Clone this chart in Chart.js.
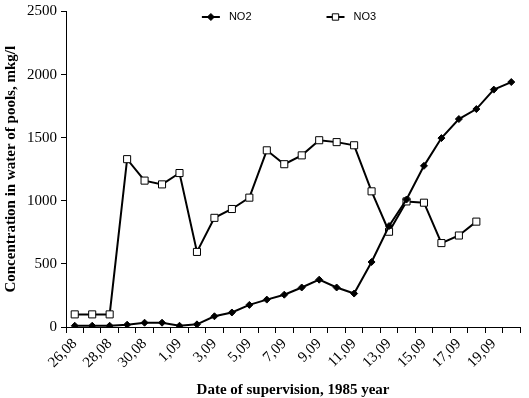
<!DOCTYPE html>
<html>
<head>
<meta charset="utf-8">
<script src="https://cdn.jsdelivr.net/npm/chart.js@4/dist/chart.umd.min.js"></script>
<style>
html,body{margin:0;padding:0;background:#fff;}
#wrap{width:529px;height:398px;}
</style>
</head>
<body>
<div id="wrap"><canvas id="c" width="529" height="398"></canvas></div>
<script>
const categories = ['26,08','27,08','28,08','29,08','30,08','31,08','1,09','2,09','3,09','4,09','5,09','6,09','7,09','8,09','9,09','10,09','11,09','12,09','13,09','14,09','15,09','16,09','17,09','18,09','19,09','20,09'];
const no2 = [10,10,10,18,34,34,10,21,85,115,175,217,256,313,375,313,265,515,800,1010,1277,1497,1648,1727,1881,1941];
const no3 = [100,100,100,1330,1160,1130,1220,595,865,935,1025,1400,1290,1360,1480,1465,1440,1075,755,995,985,665,725,835,null,null];
const yTicks = [0,500,1000,1500,2000,2500];
const xTitle = 'Date of supervision, 1985 year';
const yTitle = 'Concentration in water of pools, mkg/l';

const serif = '"Liberation Serif", "Times New Roman", serif';
const sans = '"Liberation Sans", Arial, sans-serif';

const legendPlugin = {
  id: 'excelLegend',
  afterDraw(chart) {
    const ctx = chart.ctx;
    const ds = chart.data.datasets;
    ctx.save();
    ctx.font = '11px ' + sans;
    const lineLen = 18, gapText = 9, gapItem = 75;
    const widths = ds.map(d => ctx.measureText(d.label).width);
    let total = 0;
    widths.forEach((w,i)=>{ total += lineLen + gapText + w + (i < ds.length-1 ? gapItem : 0); });
    const ca = chart.chartArea;
    let x = (ca.left + ca.right)/2 - total/2 - 4;
    const y = 17;
    ds.forEach((d,i)=>{
      ctx.strokeStyle = '#000';
      ctx.lineWidth = 2;
      ctx.beginPath(); ctx.moveTo(x, y); ctx.lineTo(x+lineLen, y); ctx.stroke();
      ctx.fillStyle = d.pointBackgroundColor;
      ctx.strokeStyle = d.pointBorderColor;
      ctx.lineWidth = 1;
      Chart.helpers.drawPoint(ctx, {pointStyle: d.pointStyle, radius: d.pointRadius - (d.pointStyle==='rect'?0.5:0), rotation: 0, borderWidth: 1}, x+lineLen/2, y);
      ctx.fillStyle = '#000';
      ctx.textBaseline = 'middle';
      ctx.textAlign = 'left';
      ctx.fillText(d.label, x + lineLen + gapText, y);
      x += lineLen + gapText + widths[i] + gapItem;
    });
    ctx.restore();
  }
};

const chart = new Chart(document.getElementById('c'), {
  type: 'line',
  data: {
    labels: categories,
    datasets: [
      {
        label: 'NO2', data: no2, borderColor: '#000', backgroundColor: '#000',
        borderWidth: 2, pointStyle: 'rectRot', pointRadius: 3.5, pointBorderWidth: 1,
        pointBackgroundColor: '#000', pointBorderColor: '#000', tension: 0
      },
      {
        label: 'NO3', data: no3, borderColor: '#000', backgroundColor: '#fff',
        borderWidth: 2, pointStyle: 'rect', pointRadius: 5, pointBorderWidth: 1,
        pointBackgroundColor: '#fff', pointBorderColor: '#000', tension: 0, spanGaps: false
      }
    ]
  },
  options: {
    responsive: false,
    devicePixelRatio: 1,
    animation: false,
    layout: { padding: { left: 2, right: 9, top: 4, bottom: 0 } },
    plugins: { legend: { display: false }, tooltip: { enabled: false } },
    scales: {
      x: {
        type: 'category',
        offset: true,
        grid: { display: true, offset: true, drawOnChartArea: false, drawTicks: true, tickLength: 6, color: '#000', lineWidth: 1 },
        border: { display: true, color: '#000', width: 1 },
        ticks: {
          autoSkip: false, maxRotation: 45, minRotation: 45, padding: 2,
          color: '#000', font: { family: serif, size: 15 },
          callback: function(v, i) { return i % 2 === 0 ? this.getLabelForValue(v) : ''; }
        },
        title: { display: true, text: xTitle, color: '#000', font: { family: serif, size: 15, weight: 'bold' }, padding: { top: 2, bottom: -1 } },
        afterFit(scale) { scale.height = 398 - 327; }
      },
      y: {
        min: 0, max: 2500,
        afterBuildTicks(scale) { scale.ticks = yTicks.map(v => ({ value: v })); },
        grid: { display: true, drawOnChartArea: false, drawTicks: true, tickLength: 5, color: '#000', lineWidth: 1 },
        border: { display: true, color: '#000', width: 1 },
        ticks: { color: '#000', font: { family: serif, size: 15, lineHeight: 1 }, padding: 4, callback: v => String(v) },
        title: { display: true, text: yTitle, color: '#000', font: { family: serif, size: 15, weight: 'bold' }, padding: { top: 0, bottom: 2 } },
        afterFit(scale) { scale.width = 66 - 2; }
      }
    }
  },
  plugins: [legendPlugin]
});
</script>
</body>
</html>
